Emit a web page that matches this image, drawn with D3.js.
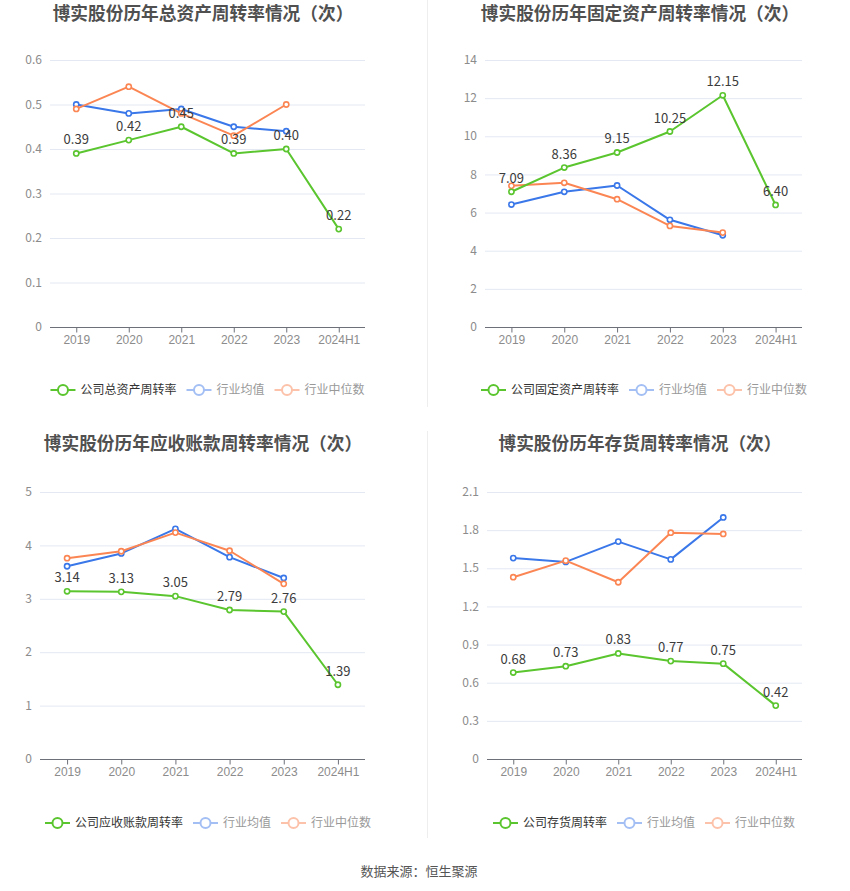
<!DOCTYPE html>
<html>
<head>
<meta charset="utf-8">
<script src="https://cdn.jsdelivr.net/npm/d3@7"></script>
<style>
    body { margin: 0; background: #fff; }
    svg { font-family: "Noto Sans CJK SC", "Noto Sans", sans-serif; }
    .grid line { stroke: #e3e8f3; }
    .x-axis path, .x-axis line { stroke: #6e7079; }
    .tick-label { fill: #8c8c8c; font-size: 12px; }
</style>
</head>
<body>
<div id="chart"></div>
<script>
// categories shared by every panel
const years = ['2019', '2020', '2021', '2022', '2023', '2024H1'];

// 总资产周转率
const totalCompany = [0.39, 0.42, 0.45, 0.39, 0.40, 0.22];
const totalMean = [0.50, 0.48, 0.49, 0.45, 0.44];
const totalMedian = [0.49, 0.54, 0.48, 0.43, 0.50];
const totalTicks = [0, 0.1, 0.2, 0.3, 0.4, 0.5, 0.6];

// 固定资产周转率
const fixedCompany = [7.09, 8.36, 9.15, 10.25, 12.15, 6.40];
const fixedMean = [6.42, 7.09, 7.42, 5.62, 4.81];
const fixedMedian = [7.40, 7.56, 6.70, 5.30, 4.95];
const fixedTicks = [0, 2, 4, 6, 8, 10, 12, 14];

// 应收账款周转率
const recvCompany = [3.14, 3.13, 3.05, 2.79, 2.76, 1.39];
const recvMean = [3.61, 3.85, 4.31, 3.78, 3.39];
const recvMedian = [3.76, 3.89, 4.24, 3.90, 3.28];
const recvTicks = [0, 1, 2, 3, 4, 5];

// 存货周转率
const invCompany = [0.68, 0.73, 0.83, 0.77, 0.75, 0.42];
const invMean = [1.58, 1.55, 1.71, 1.57, 1.90];
const invMedian = [1.43, 1.56, 1.39, 1.78, 1.77];
const invTicks = [0, 0.3, 0.6, 0.9, 1.2, 1.5, 1.8, 2.1];

const titles = [
    '博实股份历年总资产周转率情况（次）',
    '博实股份历年固定资产周转率情况（次）',
    '博实股份历年应收账款周转率情况（次）',
    '博实股份历年存货周转率情况（次）'
];
const companyNames = ['公司总资产周转率', '公司固定资产周转率', '公司应收账款周转率', '公司存货周转率'];
const meanName = '行业均值';
const medianName = '行业中位数';

const colors = {company: '#5ac52e', mean: '#3a77e9', median: '#fb8654'};
const fadedColors = {mean: '#a3bff4', median: '#fcc2aa'};

// panel layout (pixel boxes), kept apart from the data
const panels = [
    {left: 50, right: 365, top: 60, bottom: 327, titleX: 203, titleY: 14, legendCx: 207.5, legendY: 390,
     company: totalCompany, mean: totalMean, median: totalMedian, ticks: totalTicks, tickFmt: d => d === 0 ? '0' : d3.format('.1f')(d)},
    {left: 485, right: 802, top: 60, bottom: 327, titleX: 640, titleY: 14, legendCx: 644, legendY: 390,
     company: fixedCompany, mean: fixedMean, median: fixedMedian, ticks: fixedTicks, tickFmt: d3.format('d')},
    {left: 40, right: 365, top: 492, bottom: 759, titleX: 203, titleY: 444, legendCx: 208, legendY: 823,
     company: recvCompany, mean: recvMean, median: recvMedian, ticks: recvTicks, tickFmt: d3.format('d')},
    {left: 487, right: 802, top: 492, bottom: 759, titleX: 640, titleY: 444, legendCx: 644, legendY: 823,
     company: invCompany, mean: invMean, median: invMedian, ticks: invTicks, tickFmt: d => d === 0 ? '0' : d3.format('.1f')(d)}
];

const width = 850;
const height = 891;
const labelFormat = d3.format('.2f');

const svg = d3.select('#chart')
  .append('svg')
    .attr('width', width)
    .attr('height', height);

// light dividers between the panels
svg.append('line')
    .attr('x1', 427.5).attr('x2', 427.5).attr('y1', 0).attr('y2', 407)
    .attr('stroke', '#eeeeee');
svg.append('line')
    .attr('x1', 427.5).attr('x2', 427.5).attr('y1', 431).attr('y2', 838)
    .attr('stroke', '#eeeeee');

panels.forEach((p, i) => drawPanel(p, i));

svg.append('text')
    .attr('x', 419)
    .attr('y', 876)
    .attr('text-anchor', 'middle')
    .attr('fill', '#555')
    .attr('font-size', 13)
    .text('数据来源：恒生聚源');

function drawPanel(p, i) {
    const g = svg.append('g');

    const xScale = d3.scalePoint()
        .domain(years)
        .range([p.left, p.right])
        .padding(0.5);

    const yScale = d3.scaleLinear()
        .domain([0, d3.max(p.ticks)])
        .range([p.bottom, p.top]);

    // title
    g.append('text')
        .attr('x', p.titleX)
        .attr('y', p.titleY + 6)
        .attr('text-anchor', 'middle')
        .attr('font-size', 17.7)
        .attr('font-weight', 'bold')
        .attr('fill', '#505050')
        .text(titles[i]);

    // gridlines
    g.append('g')
        .classed('grid', true)
        .selectAll('line')
        .data(p.ticks.filter(t => t > 0))
        .join('line')
          .attr('x1', p.left)
          .attr('x2', p.right)
          .attr('y1', d => yScale(d) + 0.5)
          .attr('y2', d => yScale(d) + 0.5);

    // y tick labels
    g.append('g')
        .selectAll('text')
        .data(p.ticks)
        .join('text')
          .classed('tick-label', true)
          .attr('x', p.left - 8)
          .attr('y', d => yScale(d))
          .attr('dy', '0.35em')
          .attr('text-anchor', 'end')
          .text(p.tickFmt);

    // x axis
    const xAxis = d3.axisBottom(xScale).tickSize(5).tickSizeOuter(0).tickPadding(3);
    const xg = g.append('g')
        .classed('x-axis', true)
        .attr('transform', `translate(0,${p.bottom + 0.5})`)
        .call(xAxis);
    xg.select('.domain').attr('d', `M${p.left},0H${p.right}`);
    xg.selectAll('text')
        .attr('class', 'tick-label')
        .attr('fill', null)
        .style('font-family', 'inherit');

    const line = d3.line()
        .x((d, j) => xScale(years[j]))
        .y(d => yScale(d));

    const series = [
        {key: 'mean', values: p.mean},
        {key: 'median', values: p.median},
        {key: 'company', values: p.company}
    ];

    series.forEach(s => {
        g.append('path')
            .datum(s.values)
            .attr('fill', 'none')
            .attr('stroke', colors[s.key])
            .attr('stroke-width', 2)
            .attr('stroke-linejoin', 'round')
            .attr('d', line);

        g.append('g')
            .selectAll('circle')
            .data(s.values)
            .join('circle')
              .attr('cx', (d, j) => xScale(years[j]))
              .attr('cy', d => yScale(d))
              .attr('r', 2.6)
              .attr('fill', '#fff')
              .attr('stroke', colors[s.key])
              .attr('stroke-width', 1.6);
    });

    // data labels for the company series
    g.append('g')
        .selectAll('text')
        .data(p.company)
        .join('text')
          .attr('x', (d, j) => xScale(years[j]))
          .attr('y', d => yScale(d) - 9)
          .attr('text-anchor', 'middle')
          .attr('font-size', 13)
          .attr('fill', '#3c3c3c')
          .text(labelFormat);

    drawLegend(g, p, i);
}

function drawLegend(g, p, i) {
    const items = [
        {name: companyNames[i], color: colors.company, text: '#333'},
        {name: meanName, color: fadedColors.mean, text: '#999'},
        {name: medianName, color: fadedColors.median, text: '#999'}
    ];
    const legend = g.append('g');
    let x = 0;
    items.forEach((item, k) => {
        const lg = legend.append('g').attr('transform', `translate(${x},${p.legendY})`);
        lg.append('line')
            .attr('x1', 0).attr('x2', 25)
            .attr('stroke', item.color)
            .attr('stroke-width', 2);
        lg.append('circle')
            .attr('cx', 12.5)
            .attr('r', 5)
            .attr('fill', '#fff')
            .attr('stroke', item.color)
            .attr('stroke-width', 2);
        const t = lg.append('text')
            .attr('x', 30)
            .attr('dy', '0.35em')
            .attr('font-size', 12)
            .attr('fill', item.text)
            .text(item.name);
        x += 30 + t.node().getComputedTextLength() + (k < items.length - 1 ? 10 : 0);
    });
    legend.attr('transform', `translate(${p.legendCx - x / 2},0)`);
}
</script>
</body>
</html>
